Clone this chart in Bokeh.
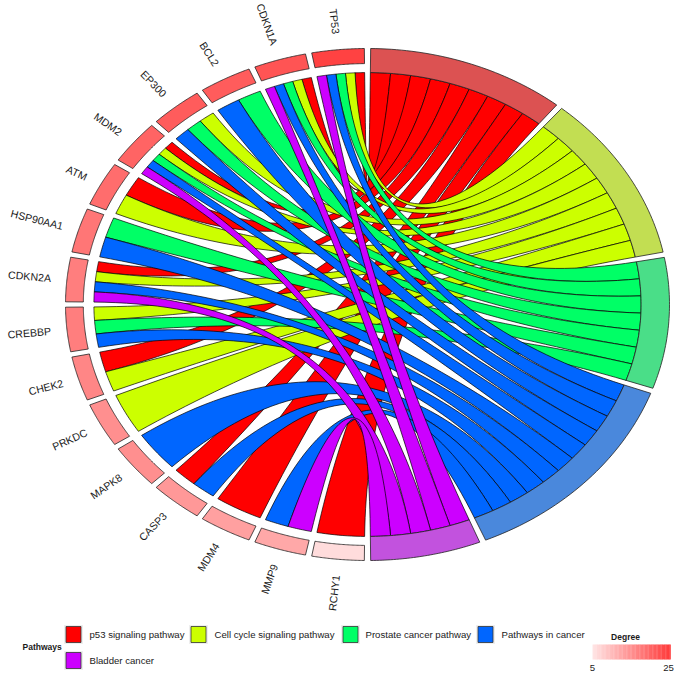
import numpy as np
from bokeh.plotting import figure
from bokeh.models import Range1d
from bokeh.embed import file_html
from bokeh.resources import INLINE
from bokeh.core.properties import value

# ---------------- data ----------------
genes = ["TP53", "CDKN1A", "BCL2", "EP300", "MDM2", "ATM", "HSP90AA1", "CDKN2A",
         "CREBBP", "CHEK2", "PRKDC", "MAPK8", "CASP3", "MDM4", "MMP9", "RCHY1"]
degree = [24, 22, 21, 21, 20, 19, 18, 17, 17, 16, 15, 15, 14, 13, 12, 6]

pathways = ["p53 signaling pathway", "Cell cycle signaling pathway",
            "Prostate cancer pathway", "Pathways in cancer", "Bladder cancer"]
p53_genes = ["TP53", "CDKN1A", "MDM2", "ATM", "CDKN2A", "CHEK2", "CASP3", "MDM4", "RCHY1"]
cell_cycle_genes = ["TP53", "CDKN1A", "EP300", "MDM2", "ATM", "CDKN2A", "CREBBP", "CHEK2", "PRKDC"]
prostate_genes = ["TP53", "CDKN1A", "BCL2", "EP300", "MDM2", "HSP90AA1", "CREBBP"]
in_cancer_genes = ["TP53", "CDKN1A", "BCL2", "EP300", "MDM2", "HSP90AA1", "CDKN2A",
                   "CREBBP", "MAPK8", "CASP3", "MMP9"]
bladder_genes = ["TP53", "CDKN1A", "MDM2", "CDKN2A", "MMP9"]
members = [p53_genes, cell_cycle_genes, prostate_genes, in_cancer_genes, bladder_genes]

ribbon_colors = ["#FF0000", "#CCFF00", "#00FF66", "#0066FF", "#CC00FF"]
segment_colors = ["#DC5252", "#C2DE52", "#4ADE88", "#4A88DC", "#C252DE"]
deg_min, deg_max = 5, 25
deg_low, deg_high = (255, 228, 228), (255, 58, 58)

# ---------------- geometry (pixel frame) ----------------
W, H = 676, 673
def X(xi):
    return xi
def Y(yi):
    return H - yi

CX, CY = X(367), Y(304)
RX, RY = 302.0, 256.0
R_OUT, R_GENE_IN, R_RIB = 1.0, 0.941, 0.906

def to_dev(u, v):
    return CX + RX * np.asarray(u), CY + RY * np.asarray(v)

def arc(r, a0, a1, n=30):
    t = np.linspace(a0, a1, n)
    return list(r * np.cos(t)), list(r * np.sin(t))

def quad(p0, p2, n=50):
    t = np.linspace(0, 1, n)
    u = (1 - t) ** 2 * p0[0] + t ** 2 * p2[0]
    v = (1 - t) ** 2 * p0[1] + t ** 2 * p2[1]
    return list(u), list(v)

def deg_color(d):
    f = (d - deg_min) / (deg_max - deg_min)
    c = [round(lo + (hi - lo) * f) for lo, hi in zip(deg_low, deg_high)]
    return "#%02X%02X%02X" % tuple(c)

GAP = np.deg2rad(1.2)
n_g = len(genes)
gene_w = (np.pi - GAP - (n_g - 1) * GAP) / n_g
gene_start = [np.pi / 2 + GAP / 2 + i * (gene_w + GAP) for i in range(n_g)]
n_links = sum(len(m) for m in members)
unit = (np.pi - GAP - (len(pathways) - 1) * GAP) / n_links
pw_top = []
a = np.pi / 2 - GAP / 2
for m in members:
    pw_top.append(a)
    a -= len(m) * unit + GAP

p = figure(width=W, height=H, x_range=Range1d(0, W), y_range=Range1d(0, H),
           output_backend="svg", toolbar_location=None, min_border=0,
           x_axis_type=None, y_axis_type=None)
p.grid.visible = False
p.outline_line_color = None
p.background_fill_color = "white"

# ---------------- ribbons ----------------
for k, m in enumerate(members):
    xs, ys = [], []
    for j, g in enumerate(m):
        gi = genes.index(g)
        gpaths = [kk for kk, mm in enumerate(members) if g in mm]
        sw = gene_w / len(gpaths)
        pos = gpaths.index(k)
        g0 = gene_start[gi] + pos * sw
        g1 = g0 + sw
        p1 = pw_top[k] - j * unit
        p0 = p1 - unit
        u, v = arc(R_RIB, g0, g1, 12)
        bu, bv = quad((R_RIB * np.cos(g1), R_RIB * np.sin(g1)),
                      (R_RIB * np.cos(p0), R_RIB * np.sin(p0)))
        u += bu; v += bv
        au, av = arc(R_RIB, p0, p1, 8)
        u += au; v += av
        bu, bv = quad((R_RIB * np.cos(p1), R_RIB * np.sin(p1)),
                      (R_RIB * np.cos(g0), R_RIB * np.sin(g0)))
        u += bu; v += bv
        dx, dy = to_dev(u, v)
        xs.append(list(dx)); ys.append(list(dy))
    p.patches(xs, ys, fill_color=ribbon_colors[k], line_color="black", line_width=0.7)

# ---------------- outer segments ----------------
def sector(r_in, r_out, a0, a1):
    u1, v1 = arc(r_out, a0, a1, 40)
    u2, v2 = arc(r_in, a1, a0, 40)
    return to_dev(u1 + u2, v1 + v2)

gx, gy, gc = [], [], []
for i, g in enumerate(genes):
    sx, sy = sector(R_GENE_IN, R_OUT, gene_start[i], gene_start[i] + gene_w)
    gx.append(list(sx)); gy.append(list(sy)); gc.append(deg_color(degree[i]))
p.patches(gx, gy, fill_color=gc, line_color="#222222", line_width=0.8)

px_, py_ = [], []
for k, m in enumerate(members):
    sx, sy = sector(R_RIB, R_OUT, pw_top[k] - len(m) * unit, pw_top[k])
    px_.append(list(sx)); py_.append(list(sy))
p.patches(px_, py_, fill_color=segment_colors, line_color="#222222", line_width=0.8)

# ---------------- gene labels ----------------
lx, ly, la = [], [], []
for i, g in enumerate(genes):
    t = gene_start[i] + gene_w / 2
    ex, ey = to_dev(np.cos(t), np.sin(t))
    phi = np.arctan2(RY * np.sin(t), RX * np.cos(t))
    lx.append(float(ex + 16 * np.cos(phi)))
    ly.append(float(ey + 16 * np.sin(phi)))
    la.append(float(phi + np.pi))
p.text(lx, ly, text=genes, angle=la, text_align="right", text_baseline="middle",
       text_font=value("Liberation Sans"), text_font_size="10.6px", text_color="#1A1A1A")

# ---------------- pathway legend ----------------
p.text([X(22)], [Y(646)], text=["Pathways"], text_font=value("Liberation Sans"),
       text_font_style="bold", text_font_size="8.5px", text_baseline="middle",
       text_color="#1A1A1A")
leg_box_x = [65, 190, 342, 477, 65]
leg_text_x = [89, 214, 365, 501, 89]
leg_y = [634, 634, 634, 634, 660]
p.rect([X(x + 8) for x in leg_box_x], [Y(y) for y in leg_y], width=19, height=19,
       fill_color="#EEEEEE", line_color=None)
p.rect([X(x + 8) for x in leg_box_x], [Y(y) for y in leg_y], width=15, height=16,
       fill_color=ribbon_colors, line_color="#333333", line_width=0.8)
p.text([X(x) for x in leg_text_x], [Y(y) for y in leg_y], text=pathways,
       text_font=value("Liberation Sans"), text_font_size="9.6px",
       text_baseline="middle", text_color="#1A1A1A")

# ---------------- degree colour bar ----------------
p.text([X(625)], [Y(636)], text=["Degree"], text_font=value("Liberation Sans"),
       text_font_style="bold", text_font_size="8.5px", text_align="center",
       text_baseline="middle", text_color="#1A1A1A")
nb = 60
bx0, bx1 = 592, 670
edges = np.linspace(bx0, bx1, nb + 1)
cb_vals = np.linspace(deg_min, deg_max, nb)
p.quad(left=[X(e) for e in edges[:-1]], right=[X(e) + 0.3 for e in edges[1:]],
       bottom=[Y(659)] * nb, top=[Y(644)] * nb,
       fill_color=[deg_color(d) for d in cb_vals], line_color=None)
p.text([X(bx0), X(bx1 - 2)], [Y(667), Y(667)], text=[str(deg_min), str(deg_max)],
       text_font=value("Liberation Sans"), text_font_size="9.6px",
       text_align="center", text_baseline="middle", text_color="#1A1A1A")

open("out.html", "w").write(file_html(p, INLINE))
